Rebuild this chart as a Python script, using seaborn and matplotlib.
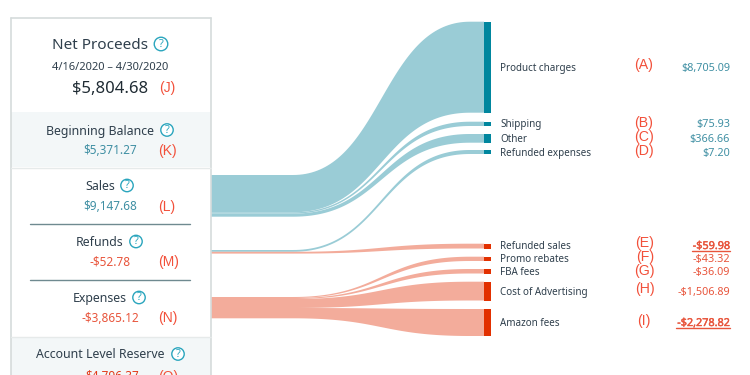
import numpy as np
import matplotlib
matplotlib.use('Agg')
import matplotlib.pyplot as plt
import matplotlib.patheffects as pe
import seaborn as sns
from matplotlib.patches import Rectangle

# right hand list
names = ['Product charges', 'Shipping', 'Other', 'Refunded expenses',
         'Refunded sales', 'Promo rebates', 'FBA fees', 'Cost of Advertising', 'Amazon fees']
amounts = ['$8,705.09', '$75.93', '$366.66', '$7.20',
           '-$59.98', '-$43.32', '-$36.09', '-$1,506.89', '-$2,278.82']
letters = ['(A)', '(B)', '(C)', '(D)', '(E)', '(F)', '(G)', '(H)', '(I)']
underlined = [False, False, False, False, True, False, False, False, True]
is_income = [True, True, True, True, False, False, False, False, False]

# band edges (pixels)
left_top = [175, 212.3, 213.6, 250, 251.8, 297, 298, 299, 308]
left_bot = [212.3, 213.6, 216.7, 251.8, 253.6, 298, 299, 308, 318.3]
right_top = [21.7, 121.7, 134, 150, 243.7, 256.7, 269, 281.7, 309]
right_bot = [112.7, 126, 142.7, 154, 248.5, 261, 273.5, 300.5, 336]
label_y = [68.5, 124.5, 139.5, 153.5, 246.5, 259.5, 272.5, 292.5, 323.5]
letter_y = [65.5, 122.5, 136.5, 151.5, 243.5, 257.5, 271.5, 289.5, 320.5]
letter_x = [644, 644, 644, 644, 645, 645, 644, 645, 644]

# left hand panel
panel_titles = ['Beginning Balance', 'Sales', 'Refunds', 'Expenses', 'Account Level Reserve']
panel_values = ['$5,371.27', '$9,147.68', '-$52.78', '-$3,865.12', '$4,796.37']
panel_letters = ['(K)', '(L)', '(M)', '(N)', '(O)']
title_y = [131, 186.5, 242.5, 298.5, 355]
value_y = [151, 207, 262.5, 318.5, 377]
icon_y = [130, 185.5, 241.5, 297.5, 354]
value_x = [110, 110, 110, 110, 112]
letter_px = [167, 167, 169, 168, 168]
icon_x = [167, 127, 136, 139, 178]

TEAL = '#9accd6'
TEAL_DARK = '#00869e'
TEAL_TEXT = '#3f8fa3'
SALMON = '#f3ac9b'
RED = '#e23000'
RED_TEXT = '#e8553c'
LETTER = '#f2503a'
INK = '#2f3f4c'

sns.set_theme(style='white')
plt.rcParams['font.family'] = ['Noto Sans', 'DejaVu Sans']

fig, ax = plt.subplots(figsize=(7.5, 3.75), dpi=100)
fig.subplots_adjust(0, 0, 1, 1)
ax.set_xlim(0, 750)
ax.set_ylim(375, 0)
ax.axis('off')


def link(y0, y1, x0=293, x1=470):
    t = np.linspace(0, 1, 80)
    xm = (x0 + x1) / 2
    x = (1-t)**3*x0 + 3*(1-t)**2*t*xm + 3*(1-t)*t**2*xm + t**3*x1
    y = (1-t)**3*y0 + 3*(1-t)**2*t*y0 + 3*(1-t)*t**2*y1 + t**3*y1
    return np.r_[211, x, 484], np.r_[y0, y, y1]


for i in range(len(names)):
    xt, yt = link(left_top[i], right_top[i])
    xb, yb = link(left_bot[i], right_bot[i])
    col = TEAL if is_income[i] else SALMON
    ax.fill(np.r_[xt, xb[::-1]], np.r_[yt, yb[::-1]], color=col, lw=0)
    dark = TEAL_DARK if is_income[i] else RED
    ax.add_patch(Rectangle((484, right_top[i]), 6.5, right_bot[i]-right_top[i], color=dark, lw=0))
    txt = TEAL_TEXT if is_income[i] else RED_TEXT
    ax.text(500, label_y[i], names[i], fontsize=7.1, color=INK, va='center', ha='left')
    ax.text(letter_x[i], letter_y[i], letters[i], fontsize=10.2, color=LETTER,
            va='center', ha='center', family='Liberation Sans')
    amount = ax.text(730, label_y[i], amounts[i], fontsize=7.8, color=txt, va='center', ha='right')
    if underlined[i]:
        amount.set_path_effects([pe.withStroke(linewidth=0.3, foreground=txt)])
        w = 38 if len(amounts[i]) < 9 else 54
        ax.plot([730-w, 730], [label_y[i]+4.5, label_y[i]+4.5], color=txt, lw=1)

# panel
ax.add_patch(Rectangle((10.5, 112), 200, 55, color='#f3f7f8', lw=0))
ax.add_patch(Rectangle((10.5, 336.5), 200, 40, color='#f3f7f8', lw=0))
ax.plot([10.5, 10.5], [17.5, 375], color='#d5dbdb', lw=1.2)
ax.plot([211, 211], [17.5, 375], color='#d5dbdb', lw=1.2)
ax.plot([10.5, 211], [17.5, 17.5], color='#d5dbdb', lw=1.2)
ax.plot([10.5, 211], [167.5, 167.5], color='#e6eaea', lw=1)
ax.plot([10.5, 211], [336.5, 336.5], color='#e6eaea', lw=1)
ax.plot([30, 190], [223.5, 223.5], color='#6f8a90', lw=1)
ax.plot([30, 190], [279.5, 279.5], color='#6f8a90', lw=1)

ax.text(100, 45.5, 'Net Proceeds', fontsize=11, color=INK, va='center', ha='center')
ax.text(110.5, 67, '4/16/2020 – 4/30/2020', fontsize=8, color=INK, va='center', ha='center')
ax.text(110, 89, '$5,804.68', fontsize=12, color='#1f2b33', va='center', ha='center')
ax.text(167, 88, '(J)', fontsize=10, color=LETTER, va='center', ha='center', family='Liberation Sans')

for i in range(len(panel_titles)):
    ax.text(100, title_y[i], panel_titles[i], fontsize=8.9, color=INK, va='center', ha='center')
    if i < 2:
        col = TEAL_TEXT
    elif i < 4:
        col = RED_TEXT
    else:
        col = '#e23a1a'
    ax.text(value_x[i], value_y[i], panel_values[i], fontsize=8.5, color=col, va='center', ha='center')
    ax.text(letter_px[i], value_y[i]-0.5, panel_letters[i], fontsize=10, color=LETTER, va='center',
            ha='center', family='Liberation Sans')

# help icons
help_x = [161] + icon_x
help_y = [44] + icon_y
sns.scatterplot(x=help_x, y=help_y, s=[95] + [80]*5, color='white', edgecolor='#2aa5bd',
                linewidth=1, ax=ax, legend=False, zorder=3)
for x, y in zip(help_x, help_y):
    ax.text(x, y + 0.5, '?', fontsize=8, color='#2aa5bd', va='center', ha='center', zorder=4)

fig.savefig('out.png', dpi=100)
